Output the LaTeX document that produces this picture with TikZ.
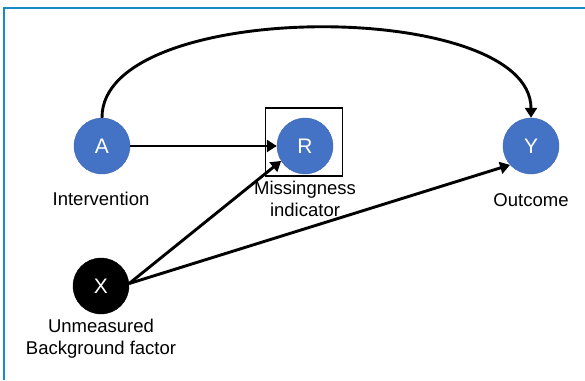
\documentclass[tikz,border=0pt]{standalone}
\usepackage{fontspec}
\setmainfont{Liberation Sans}
\usetikzlibrary{arrows.meta}
\definecolor{dagblue}{HTML}{4472C4}
\definecolor{dagedge}{HTML}{3F68B4}
\definecolor{framecol}{HTML}{1A8AC6}
\tikzset{
  var/.style={circle, fill=dagblue, draw=dagedge, line width=0.4pt, minimum size=56pt,
    inner sep=0pt, text=white, font=\fontsize{21}{24}\selectfont},
  hidden/.style={var, fill=black, draw=black},
  lbl/.style={align=center, font=\fontsize{18.5}{22}\selectfont},
  causal/.style={line width=2.9pt, -{Triangle[length=10pt,width=12pt]}}
}

\begin{document}
\begin{tikzpicture}[x=1pt, y=1pt]
			%%%%% START %%%%%
			
			\useasboundingbox (0, 0) rectangle (585, -380);
			\draw[line width=2.2pt, color=framecol] (4, -380) -- (4, -8) -- (585, -8);
			
			\node[var] (A) at (102, -146) {A};
			\node[var] (R) at (305, -146) {R};
			\node[var] (Y) at (531, -146) {Y};
			\node[hidden] (X) at (101, -286) {X};
			
			\node[draw=black, line width=1.6pt, minimum width=77pt, minimum height=68pt] (Rbox) at (304, -142) {};
			
			\node[lbl] (Alab) at (101, -199) {Intervention};
			\node[lbl] (Rlab) at (305, -199) {Missingness\\indicator};
			\node[lbl] (Ylab) at (531, -200) {Outcome};
			\node[lbl] (Xlab) at (101, -339) {Unmeasured\\Background factor};
			
			\draw[causal] (A) -- (R);
			\draw[causal] (X.5) -- (R.212);
			\draw[causal] (X.5) -- (Y.222);
			\draw[causal] (A.north) .. controls (101, 2) and (531, 2) .. (Y.north);
			
			%%%%% END %%%%%
		\end{tikzpicture}
\end{document}
